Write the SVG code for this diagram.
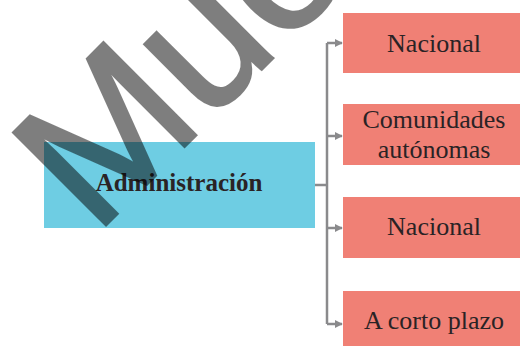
<svg xmlns="http://www.w3.org/2000/svg" width="520" height="346" viewBox="0 0 520 346">
<defs>
<style>
.lbl{font-family:"Liberation Serif",serif;font-size:26px;fill:#2a2325;text-anchor:middle}
.red{fill:#f08075}
.conn{stroke:#8a8a8c;stroke-width:2.5;fill:none}
</style>
<marker id="ah" viewBox="0 0 10 10" refX="9" refY="5" markerWidth="3.2" markerHeight="3.2" orient="auto" markerUnits="strokeWidth">
<path d="M0,0 L10,5 L0,10 Z" fill="#8a8a8c"/>
</marker>
</defs>
<rect width="520" height="346" fill="#ffffff"/>
<g id="connectors">
<path class="conn" d="M315,185 H327"/>
<path class="conn" d="M327,43 V324"/>
<path class="conn" d="M327,43 H342" marker-end="url(#ah)"/>
<path class="conn" d="M327,136 H342" marker-end="url(#ah)"/>
<path class="conn" d="M327,228 H342" marker-end="url(#ah)"/>
<path class="conn" d="M327,324 H342" marker-end="url(#ah)"/>
</g>
<g id="admin">
<rect x="44" y="142" width="271" height="86" fill="#6ecde3"/>
<text class="lbl" x="179" y="191" style="font-weight:bold;font-size:25px">Administración</text>
</g>
<g id="nacional1">
<rect class="red" x="343" y="13" width="177" height="60"/>
<text class="lbl" x="434" y="52">Nacional</text>
</g>
<g id="comunidades">
<rect class="red" x="343" y="104" width="177" height="61"/>
<text class="lbl" x="434" y="128">Comunidades</text>
<text class="lbl" x="434" y="158">autónomas</text>
</g>
<g id="nacional2">
<rect class="red" x="343" y="197" width="177" height="61"/>
<text class="lbl" x="434" y="235">Nacional</text>
</g>
<g id="corto">
<rect class="red" x="343" y="291" width="177" height="55"/>
<text class="lbl" x="434" y="329">A corto plazo</text>
</g>
<g id="watermark" opacity="0.5">
<text x="95" y="236" transform="rotate(-45 95 236)" font-family="Liberation Sans,sans-serif" font-size="190" fill="#000" stroke="#000" stroke-width="3" stroke-linejoin="miter">Muestra</text>
</g>
</svg>
